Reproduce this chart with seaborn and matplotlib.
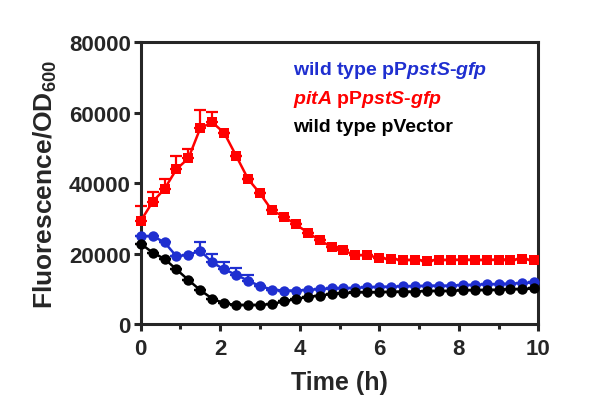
import matplotlib

matplotlib.use("Agg")

import matplotlib.pyplot as plt
import pandas as pd
import seaborn as sns
from matplotlib.ticker import MultipleLocator

sns.set_style("ticks")
plt.rcParams["font.family"] = ["Liberation Sans", "DejaVu Sans"]
plt.rcParams["font.weight"] = "bold"
plt.rcParams["mathtext.fontset"] = "custom"
plt.rcParams["mathtext.rm"] = "Liberation Sans:bold"
plt.rcParams["mathtext.bf"] = "Liberation Sans:bold"
plt.rcParams["mathtext.it"] = "Liberation Sans:italic:bold"

# Tempo (h), uma leitura a cada ~18 min
TEMPO = [0.0, 0.3, 0.6, 0.9, 1.2, 1.5, 1.8, 2.1, 2.4, 2.7, 3.0, 3.3,
         3.6, 3.9, 4.2, 4.5, 4.8, 5.1, 5.4, 5.7, 6.0, 6.3, 6.6, 6.9,
         7.2, 7.5, 7.8, 8.1, 8.4, 8.7, 9.0, 9.3, 9.6, 9.9]

WT_PST = [24900, 25000, 23200, 19200, 19700, 20800, 17500, 15500, 14000, 12300, 10800, 9800,
          9500, 9500, 9700, 9900, 10100, 10100, 10300, 10400, 10600, 10600, 10700, 10700,
          10900, 10900, 10900, 11100, 11100, 11300, 11300, 11500, 11600, 11800]
WT_PST_ERR = [0, 0, 0, 0, 0, 2400, 2300, 2100, 1900, 1500, 0, 0,
              0, 0, 0, 0, 0, 0, 0, 0, 0, 0, 0, 0,
              0, 0, 0, 0, 0, 0, 0, 0, 0, 0]

PITA_PST = [29300, 34700, 38400, 44000, 47100, 55700, 57300, 54300, 47800, 41200, 37100, 32300,
            30500, 28300, 26000, 23800, 21900, 20900, 19500, 19600, 18700, 18500, 18200, 18200,
            18000, 18200, 18200, 18300, 18200, 18200, 18300, 18300, 18400, 18200]
PITA_PST_ERR = [4300, 2900, 2800, 3600, 2600, 5200, 2800, 0, 0, 0, 0, 0,
                0, 0, 0, 0, 0, 0, 0, 0, 0, 0, 0, 0,
                0, 0, 0, 0, 0, 0, 0, 0, 0, 0]

WT_VECTOR = [22800, 20300, 18500, 15500, 12500, 9600, 7200, 5900, 5400, 5400, 5400, 5700,
             6400, 7100, 7700, 8100, 8500, 8700, 9000, 9000, 9000, 9200, 9200, 9200,
             9400, 9400, 9400, 9600, 9600, 9700, 9700, 9900, 9900, 10100]
WT_VECTOR_ERR = [0] * 34

ROTULOS = [
    "wild type pP$\\mathit{pstS}$-$\\mathit{gfp}$",
    "$\\mathit{pitA}$ pP$\\mathit{pstS}$-$\\mathit{gfp}$",
    "wild type pVector",
]
CORES = ["#1F2FD0", "#FF0000", "#000000"]
MARCADORES = ["o", "s", "o"]

series = [WT_PST, PITA_PST, WT_VECTOR]
erros = [WT_PST_ERR, PITA_PST_ERR, WT_VECTOR_ERR]

df = pd.concat(
    [pd.DataFrame({"tempo": TEMPO, "valor": v, "erro": e, "cepa": r})
     for v, e, r in zip(series, erros, ROTULOS)],
    ignore_index=True,
)

fig = plt.figure(figsize=(5.97, 4.10), dpi=100)
ax = fig.add_axes([0.2357, 0.2073, 0.666, 0.6867])

# barras de erro só para cima (estilo GraphPad)
for rotulo, cor in zip(ROTULOS, CORES):
    sub = df[df["cepa"] == rotulo]
    ax.errorbar(sub["tempo"], sub["valor"], yerr=[[0] * len(sub), sub["erro"]],
                fmt="none", ecolor=cor, elinewidth=1.6, capsize=4, capthick=1.6,
                zorder=2, clip_on=False)

sns.lineplot(
    data=df, x="tempo", y="valor", hue="cepa", style="cepa",
    hue_order=ROTULOS, style_order=ROTULOS,
    palette=dict(zip(ROTULOS, CORES)),
    markers=dict(zip(ROTULOS, MARCADORES)), dashes=False,
    markersize=7.5, markeredgewidth=0, linewidth=1.8,
    errorbar=None, ax=ax, zorder=3, clip_on=False,
)

ax.set_xlim(0, 10)
ax.set_ylim(0, 80000)
ax.xaxis.set_major_locator(MultipleLocator(2))
ax.xaxis.set_minor_locator(MultipleLocator(1))
ax.yaxis.set_major_locator(MultipleLocator(20000))
ax.tick_params(axis="both", which="major", length=5, width=2.2, labelsize=16, pad=2)
ax.tick_params(axis="x", which="minor", length=3.5, width=2.2)
ax.tick_params(axis="x", pad=5)
for lado in ax.spines.values():
    lado.set_linewidth(2.2)
    lado.set_visible(True)

ax.set_xlabel("Time (h)", fontsize=18, fontweight="bold", labelpad=8)
ax.set_ylabel("Fluorescence/OD$_{\\mathrm{600}}$", fontsize=19, fontweight="bold", labelpad=7)

leg = ax.legend(
    loc="upper left", bbox_to_anchor=(0.383, 0.94), frameon=False,
    handlelength=0, handletextpad=0, borderaxespad=0, borderpad=0,
    labelspacing=0.4, prop={"size": 14, "weight": "bold"},
)
for h in leg.legend_handles:
    h.set_visible(False)
for txt, cor in zip(leg.get_texts(), CORES):
    txt.set_color(cor)

fig.savefig("out.png", dpi=100)
